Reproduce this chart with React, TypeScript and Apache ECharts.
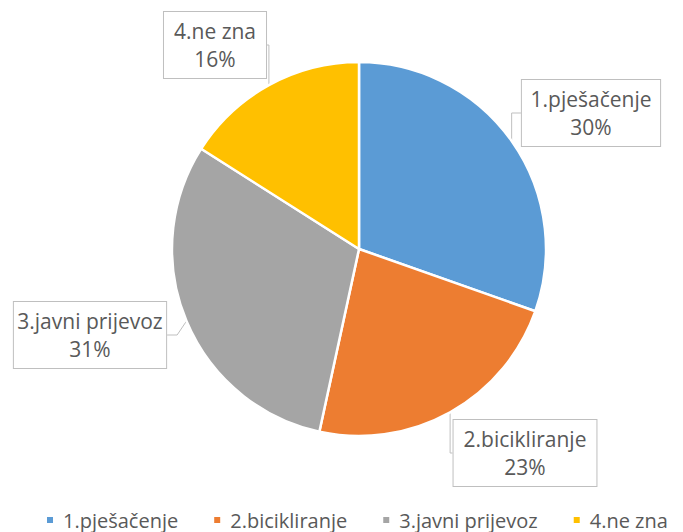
import React, { useEffect, useRef } from "react";
import * as echarts from "echarts";

const categories = ["1.pješačenje", "2.bicikliranje", "3.javni prijevoz", "4.ne zna"];
const values = [30.4, 23.0, 30.6, 16.0];
const colors = ["#5B9BD5", "#ED7D31", "#A5A5A5", "#FFC000"];
const labelPos = [
  [591, 113],
  [525, 453],
  [90, 335],
  [215, 45],
];

export default function App() {
  const ref = useRef<HTMLDivElement>(null);
  useEffect(() => {
    if (!ref.current) return;
    const chart = echarts.init(ref.current, undefined, { renderer: "svg" });
    const font = "'Open Sans', 'Noto Sans', sans-serif";
    chart.setOption({
      animation: false,
      color: colors,
      legend: {
        bottom: -3,
        left: 40,
        itemWidth: 8,
        itemHeight: 8,
        itemGap: 34,
        icon: "rect",
        textStyle: { color: "#595959", fontSize: 20, fontFamily: font, padding: [0, 0, 0, 4] },
        data: categories,
      },
      series: [
        {
          type: "pie",
          center: [359, 249],
          radius: 187,
          startAngle: 90,
          clockwise: true,
          itemStyle: { borderColor: "#fff", borderWidth: 2.5 },
          label: {
            show: true,
            formatter: (p: any) => `${p.name}\n${Math.round(p.percent)}%`,
            color: "#595959",
            fontSize: 21,
            lineHeight: 28,
            fontFamily: font,
            overflow: "none",
            backgroundColor: "#fff",
            borderColor: "#bfbfbf",
            borderWidth: 1,
            padding: [6, 10, 4, 10],
            align: "center",
          },
          labelLine: { show: true, length: 10, length2: 10, lineStyle: { color: "#bfbfbf", width: 1 } },
          labelLayout: (p: any) => ({
            x: labelPos[p.dataIndex][0],
            y: labelPos[p.dataIndex][1],
            align: "center",
            verticalAlign: "middle",
          }),
          data: categories.map((c, i) => ({ name: c, value: values[i] })),
        },
      ],
    });
    return () => chart.dispose();
  }, []);
  return (
    <div style={{ position: "absolute", left: 0, top: 0, width: 683, height: 532, overflow: "hidden" }}>
      <div ref={ref} style={{ width: 683, height: 532 }} />
    </div>
  );
}
